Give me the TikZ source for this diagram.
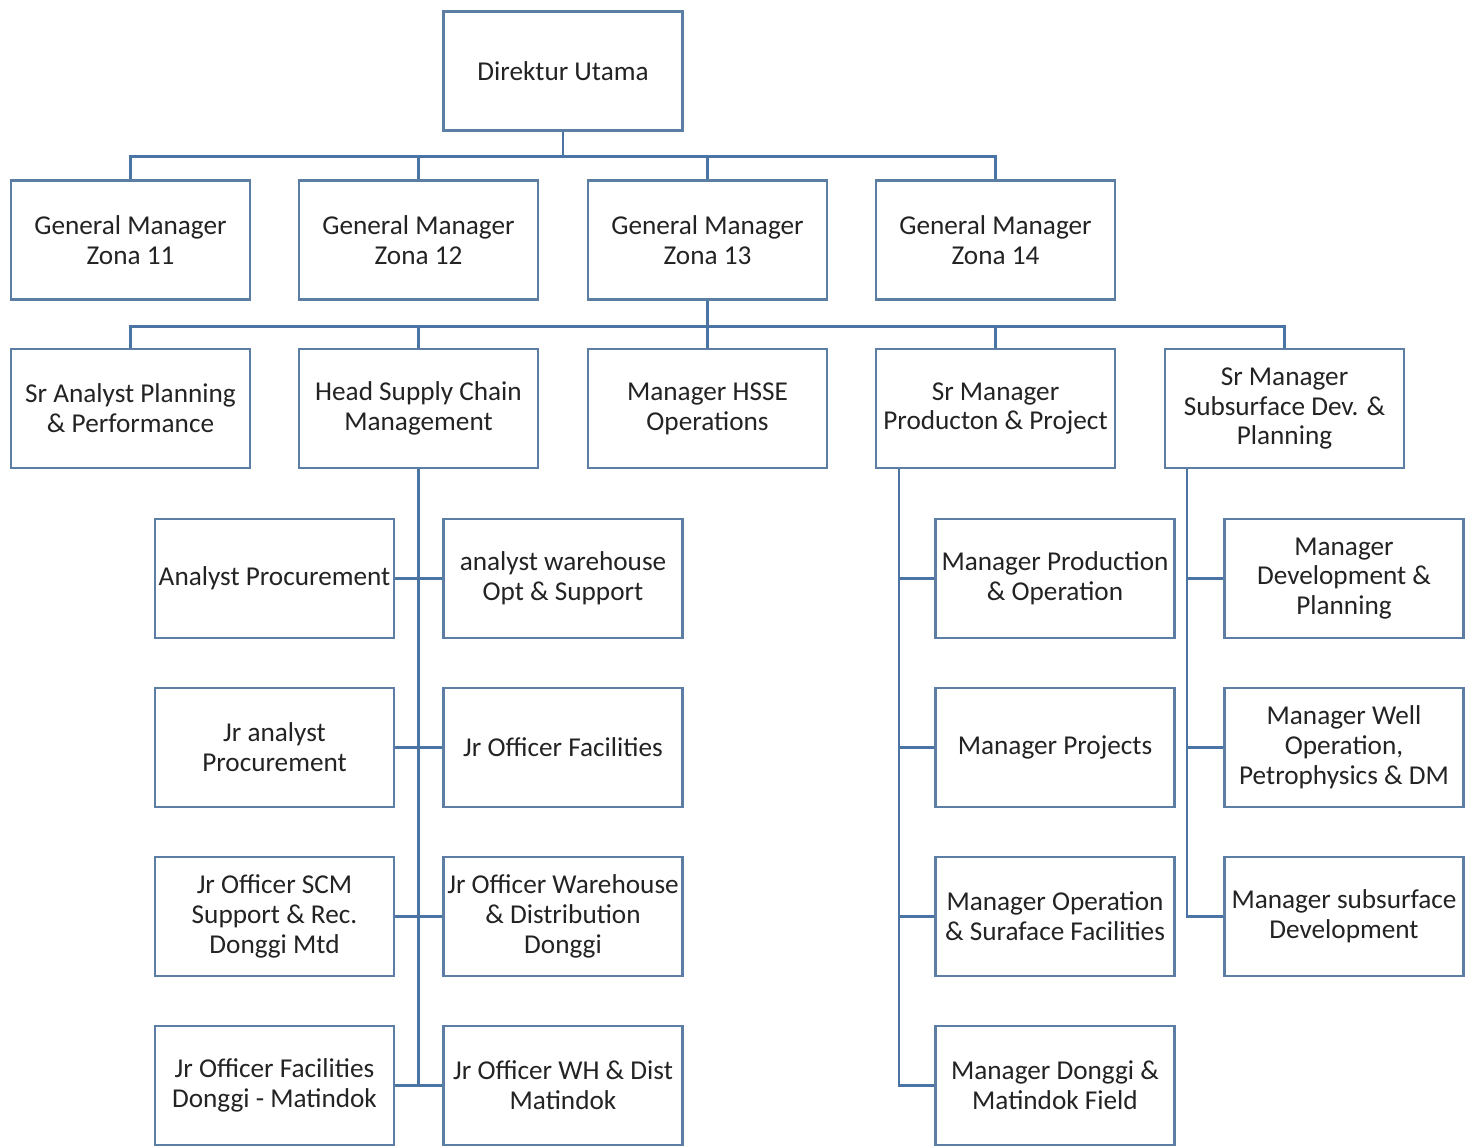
\documentclass[tikz,border=0pt]{standalone}
\usepackage{fontspec}
\setmainfont{Carlito}
\usetikzlibrary{calc}
\definecolor{boxline}{RGB}{92,126,164}
\definecolor{linkline}{RGB}{74,116,164}
\definecolor{txt}{RGB}{35,35,35}
\begin{document}
\begin{tikzpicture}
  [x=0.02cm,y=-0.02cm,
   every node/.style={draw=boxline,line width=1.2pt,fill=white,text=txt,
     minimum width=4.78cm,minimum height=2.38cm,align=center,inner sep=1pt,
     font=\fontsize{15.5}{17}\selectfont},
   link/.style={draw=linkline,line width=1.2pt}]
  \useasboundingbox (0,0) rectangle (1475,1146);

  % top level
  \node (du) at (563,71) {Direktur Utama};

  % general managers
  \node (gm11) at (130.5,240) {General Manager\\Zona 11};
  \node (gm12) at (418.5,240) {General Manager\\Zona 12};
  \node (gm13) at (707.5,240) {General Manager\\Zona 13};
  \node (gm14) at (995.5,240) {General Manager\\Zona 14};

  % zona 13 staff
  \node (spa)  at (130.5,408.5)  {Sr Analyst Planning\\\& Performance};
  \node (hscm) at (418.5,408.5)  {Head Supply Chain\\Management};
  \node (hsse) at (707.5,408.5)  {Manager HSSE\\Operations};
  \node (smpp) at (995.5,408.5)  {Sr Manager\\Producton \& Project};
  \node (smsd) at (1284.5,408.5) {Sr Manager\\Subsurface Dev. \&\\Planning};

  % supply chain
  \node (a1) at (274.5,578.5)  {Analyst Procurement};
  \node (a2) at (274.5,747.5)  {Jr analyst\\Procurement};
  \node (a3) at (274.5,916.5)  {Jr Officer SCM\\Support \& Rec.\\Donggi Mtd};
  \node (a4) at (274.5,1085.5) {Jr Officer Facilities\\Donggi - Matindok};
  \node (b1) at (563,578.5)  {analyst warehouse\\Opt \& Support};
  \node (b2) at (563,747.5)  {Jr Officer Facilities};
  \node (b3) at (563,916.5)  {Jr Officer Warehouse\\\& Distribution\\Donggi};
  \node (b4) at (563,1085.5) {Jr Officer WH \& Dist\\Matindok};

  % production & project
  \node (c1) at (1055,578.5)  {Manager Production\\\& Operation};
  \node (c2) at (1055,747.5)  {Manager Projects};
  \node (c3) at (1055,916.5)  {Manager Operation\\\& Suraface Facilities};
  \node (c4) at (1055,1085.5) {Manager Donggi \&\\Matindok Field};

  % subsurface
  \node (d1) at (1344,578.5) {Manager\\Development \&\\Planning};
  \node (d2) at (1344,747.5) {Manager Well\\Operation,\\Petrophysics \& DM};
  \node (d3) at (1344,916.5) {Manager subsurface\\Development};

  \coordinate (pp) at ($(smpp.south west)+(24,0)$);
  \coordinate (sd) at ($(smsd.south west)+(23,0)$);

  \foreach \to in {gm11,gm12,gm13,gm14}
    \draw[link] (du.south) -- ++(0,25) -| (\to.north);
  \foreach \to in {spa,hscm,hsse,smpp,smsd}
    \draw[link] (gm13.south) -- ++(0,26) -| (\to.north);
  \foreach \to/\side in {a1/east,a2/east,a3/east,a4/east,b1/west,b2/west,b3/west,b4/west}
    \draw[link] (hscm.south) |- (\to.\side);
  \foreach \to in {c1,c2,c3,c4}
    \draw[link] (pp) |- (\to.west);
  \foreach \to in {d1,d2,d3}
    \draw[link] (sd) |- (\to.west);
\end{tikzpicture}
\end{document}
